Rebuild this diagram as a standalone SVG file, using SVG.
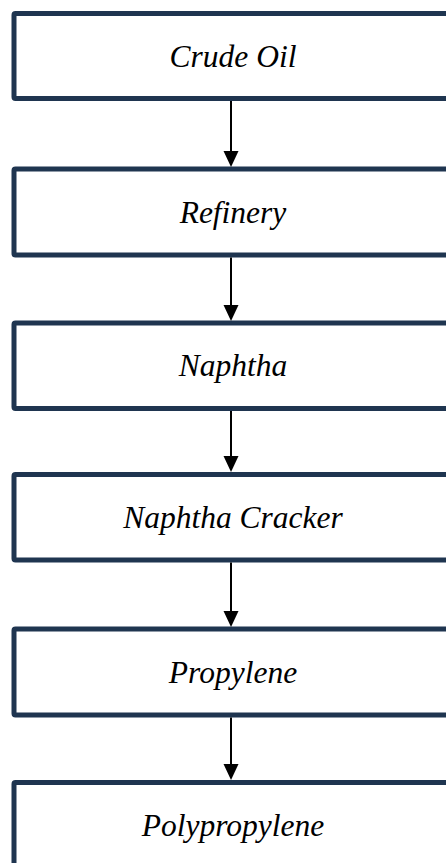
<svg xmlns="http://www.w3.org/2000/svg" width="446" height="863" viewBox="0 0 446 863">
  <style>
    .box { fill: #ffffff; stroke: #1f3550; stroke-width: 5; }
    .label { font-family: "Liberation Serif", "Times New Roman", serif; font-style: italic; font-size: 31.5px; fill: #000000; text-anchor: middle; }
    .link { stroke: #000000; stroke-width: 2; fill: none; }
    .head { fill: #000000; }
  </style>
  <rect width="446" height="863" fill="#ffffff"/>

  <g id="crude-oil">
    <rect class="box" x="14" y="13.5" width="440" height="85" rx="1.5"/>
    <text class="label" x="233" y="66.5">Crude Oil</text>
  </g>
  <g id="refinery">
    <rect class="box" x="14" y="169" width="440" height="86" rx="1.5"/>
    <text class="label" x="233" y="222.5">Refinery</text>
  </g>
  <g id="naphtha">
    <rect class="box" x="14" y="323" width="440" height="85.5" rx="1.5"/>
    <text class="label" x="233" y="376">Naphtha</text>
  </g>
  <g id="naphtha-cracker">
    <rect class="box" x="14" y="474.5" width="440" height="85.5" rx="1.5"/>
    <text class="label" x="233" y="528">Naphtha Cracker</text>
  </g>
  <g id="propylene">
    <rect class="box" x="14" y="629" width="440" height="86" rx="1.5"/>
    <text class="label" x="233" y="682.5">Propylene</text>
  </g>
  <g id="polypropylene">
    <rect class="box" x="14" y="782.5" width="440" height="86" rx="1.5"/>
    <text class="label" x="233" y="836">Polypropylene</text>
  </g>

  <g id="connectors">
    <line class="link" x1="231" y1="101" x2="231" y2="155"/>
    <polygon class="head" points="223.5,151 238.5,151 231,167"/>

    <line class="link" x1="231" y1="257.5" x2="231" y2="309"/>
    <polygon class="head" points="223.5,305 238.5,305 231,321"/>

    <line class="link" x1="231" y1="411" x2="231" y2="460"/>
    <polygon class="head" points="223.5,456 238.5,456 231,472"/>

    <line class="link" x1="231" y1="562.5" x2="231" y2="614"/>
    <polygon class="head" points="223.5,611 238.5,611 231,627"/>

    <line class="link" x1="231" y1="717.5" x2="231" y2="768"/>
    <polygon class="head" points="223.5,764 238.5,764 231,780"/>
  </g>
</svg>
